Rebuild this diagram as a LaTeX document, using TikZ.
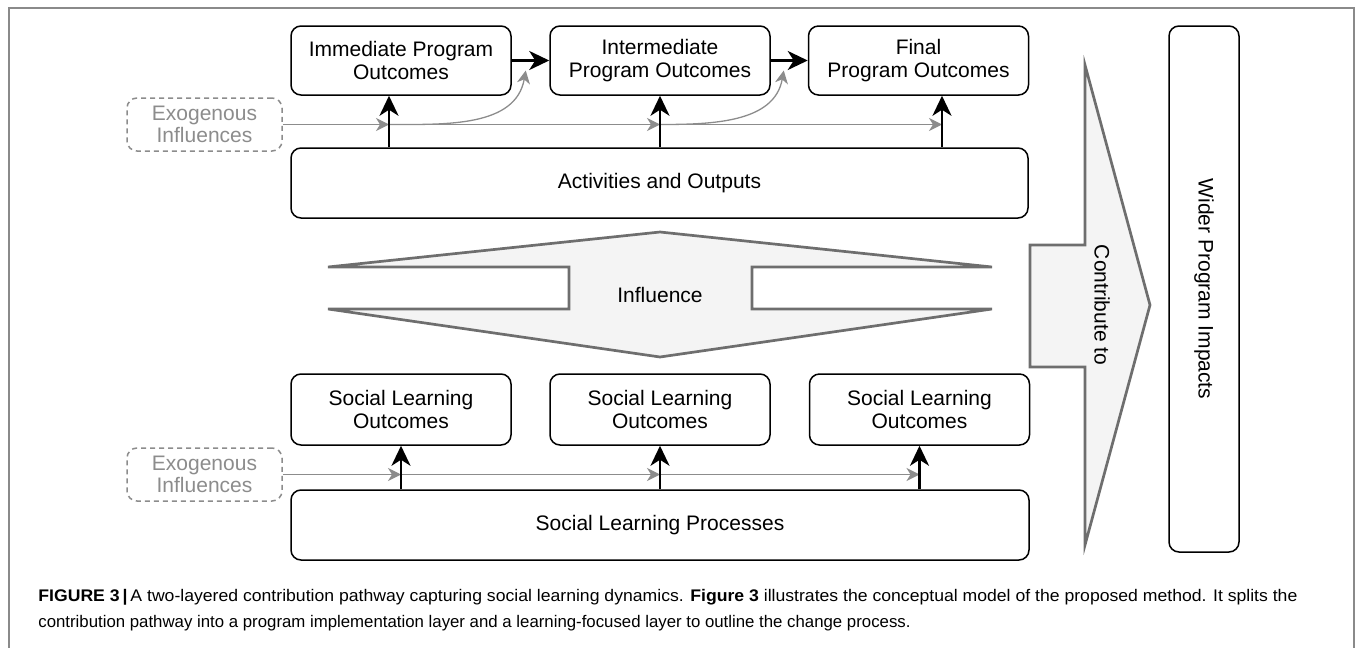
\documentclass[tikz,border=0pt]{standalone}
\usepackage{graphicx}
\usepackage{fontspec}
\setmainfont{Liberation Sans}
\usetikzlibrary{arrows.meta}
\definecolor{exogray}{HTML}{8C8C8C}
\definecolor{shapegray}{HTML}{6E6E6E}
\definecolor{shapefill}{HTML}{F4F4F4}
\definecolor{framegray}{HTML}{8A8A8A}
\tikzset{
  pbox/.style={draw, rounded corners=5pt, line width=0.75pt, align=center, inner sep=0pt,
    minimum width=110pt, minimum height=34.5pt, font=\fontsize{10.5}{11.35}\selectfont},
  exobox/.style={pbox, draw=exogray, dash pattern=on 2.5pt off 2pt, text=exogray,
    minimum width=77.5pt, minimum height=26.5pt},
  blkarrow/.style={-{Stealth[length=10pt,width=9.5pt,inset=3pt]}, line width=1.35pt},
  gryarrow/.style={-{Stealth[length=6.5pt,width=6.5pt,inset=2pt]}, line width=0.65pt, exogray},
  bigarrow/.style={draw=shapegray, fill=shapefill, line width=1.35pt},
  captext/.style={anchor=base west, inner sep=0pt, font=\fontsize{8.4}{10}\selectfont}
}
\begin{document}
\begin{tikzpicture}[x=0.5pt, y=-0.5pt]
  \useasboundingbox (0,0) rectangle (1355,648);
  \draw[framegray, line width=1pt] (9,660) -- (9,8) -- (1354,8) -- (1354,660);

  % program layer
  \node[pbox] (imm) at (401,60.5) {Immediate Program\\Outcomes};
  \node[pbox] (inter) at (660,60.5) {Intermediate\\Program Outcomes};
  \node[pbox] (final) at (918.5,60.5) {Final\\Program Outcomes};
  \node[pbox, minimum width=368.5pt, minimum height=35pt] (act) at (659.5,183) {Activities and Outputs};
  \node[exobox] (exo1) at (204.5,124.5) {Exogenous\\Influences};

  \coordinate (j1) at ([xshift=-6pt]imm.south |- exo1.east);
  \coordinate (j2) at (inter.south |- exo1.east);
  \coordinate (j3) at ([xshift=11.75pt]final.south |- exo1.east);
  \draw[gryarrow] (exo1.east) -- (j1);
  \draw[gryarrow] (j1) -- (j2);
  \draw[gryarrow] (j2) -- (j3);
  \draw[gryarrow] (j1) to[out=0, in=-100] ([xshift=7pt, yshift=-5pt]imm.east);
  \draw[gryarrow] (j2) to[out=0, in=-100] ([xshift=6.5pt, yshift=-5pt]inter.east);

  \draw[blkarrow] ([xshift=-6pt]imm.south |- act.north) -- ([xshift=-6pt]imm.south);
  \draw[blkarrow] (inter.south |- act.north) -- (inter.south);
  \draw[blkarrow] ([xshift=11.75pt]final.south |- act.north) -- ([xshift=11.75pt]final.south);
  \draw[blkarrow] (imm.east) -- (inter.west);
  \draw[blkarrow] (inter.east) -- (final.west);

  % influence between layers
  \draw[bigarrow] (328,267) -- (660,232) -- (992,267) -- (752,267) -- (752,309) -- (992,309)
    -- (660,357) -- (328,309) -- (569,309) -- (569,267) -- cycle;
  \node[font=\fontsize{10.5}{11.35}\selectfont] (infl) at (660,295) {Influence};

  % learning layer
  \node[pbox, minimum height=35.5pt] (sl1) at (401,409.5) {Social Learning\\Outcomes};
  \node[pbox, minimum height=35.5pt] (sl2) at (660,409.5) {Social Learning\\Outcomes};
  \node[pbox, minimum height=35.5pt] (sl3) at (919.5,409.5) {Social Learning\\Outcomes};
  \node[pbox, minimum width=369pt, minimum height=35pt] (proc) at (660,525) {Social Learning Processes};
  \node[exobox] (exo2) at (204.5,474.5) {Exogenous\\Influences};

  \draw[gryarrow] (exo2.east) -- (sl1.south |- exo2.east);
  \draw[gryarrow] (sl1.south |- exo2.east) -- (sl2.south |- exo2.east);
  \draw[gryarrow] (sl2.south |- exo2.east) -- (sl3.south |- exo2.east);
  \draw[blkarrow] (sl1.south |- proc.north) -- (sl1.south);
  \draw[blkarrow] (sl2.south |- proc.north) -- (sl2.south);
  \draw[blkarrow] (sl3.south |- proc.north) -- (sl3.south);

  % contribution to impacts
  \draw[bigarrow] (1030,245) -- (1085,245) -- (1085,65) -- (1150,305) -- (1085,545)
    -- (1085,367) -- (1030,367) -- cycle;
  \node[rotate=-90, font=\fontsize{10.5}{11.35}\selectfont] (contr) at (1102,305) {Contribute to};
  \node[pbox, rotate=-90, minimum width=263pt, minimum height=35pt] (wider) at (1204,289) {Wider Program Impacts};

  % caption
  \node[captext] (cap1) at (38,601) {\resizebox{629.5pt}{\height}{\textbf{FIGURE 3}\,\textbf{|}\,A two-layered contribution pathway capturing social learning dynamics. \textbf{Figure 3} illustrates the conceptual model of the proposed method. It splits the}};
  \node[captext] (cap2) at (38,627) {contribution pathway into a program implementation layer and a learning-focused layer to outline the change process.};
\end{tikzpicture}
\end{document}
